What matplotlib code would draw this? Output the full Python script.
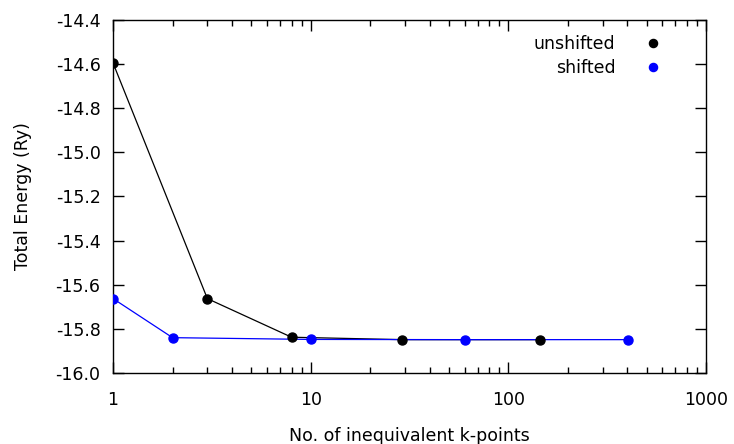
import matplotlib
matplotlib.use("Agg")
import matplotlib.pyplot as plt

## Data
k_unshifted = [1, 3, 8, 29, 144]
e_unshifted = [-14.595, -15.663, -15.838, -15.849, -15.849]
k_shifted = [1, 2, 10, 60, 404]
e_shifted = [-15.663, -15.840, -15.848, -15.849, -15.849]

fs = 12.5

fig = plt.figure(figsize=(7.34, 4.44), dpi=100)
ax = fig.add_axes([0.154, 0.160, 0.808, 0.795])

ax.plot(k_unshifted, e_unshifted, color='black', lw=0.9, zorder=2)
ax.plot(k_shifted, e_shifted, color='blue', lw=0.9, zorder=2)
ax.plot(k_unshifted, e_unshifted, 'o', color='black', ms=6.5, ls='none',
        label='unshifted', zorder=3)
ax.plot(k_shifted, e_shifted, 'o', color='blue', ms=6.5, ls='none',
        label='shifted', zorder=3)

ax.set_xscale('log')
ax.set_xlim(1, 1000)
ax.set_ylim(-16.0, -14.4)
ax.set_xticks([1, 10, 100, 1000])
ax.set_xticklabels(['1', '10', '100', '1000'])
ax.set_yticks([-16.0 + 0.2 * i for i in range(9)])
ax.set_yticklabels(['%.1f' % (-16.0 + 0.2 * i) for i in range(9)])

ax.tick_params(which='both', direction='in', top=True, right=True, labelsize=fs)
ax.tick_params(which='major', length=8, width=1, pad=9)
ax.tick_params(which='minor', length=4, width=1)
ax.tick_params(axis='x', which='major', pad=13)
for s in ax.spines.values():
    s.set_linewidth(1)

ax.set_xlabel('No. of inequivalent k-points', fontsize=fs, labelpad=13)
ax.set_ylabel('Total Energy (Ry)', fontsize=fs, labelpad=17)

ax.legend(loc='upper right', bbox_to_anchor=(0.944, 0.976), frameon=False,
          markerfirst=False, fontsize=fs, handletextpad=1.4, borderaxespad=0,
          labelspacing=0.3, handlelength=1.5, markerscale=0.9)

plt.savefig("out.png", dpi=100)
